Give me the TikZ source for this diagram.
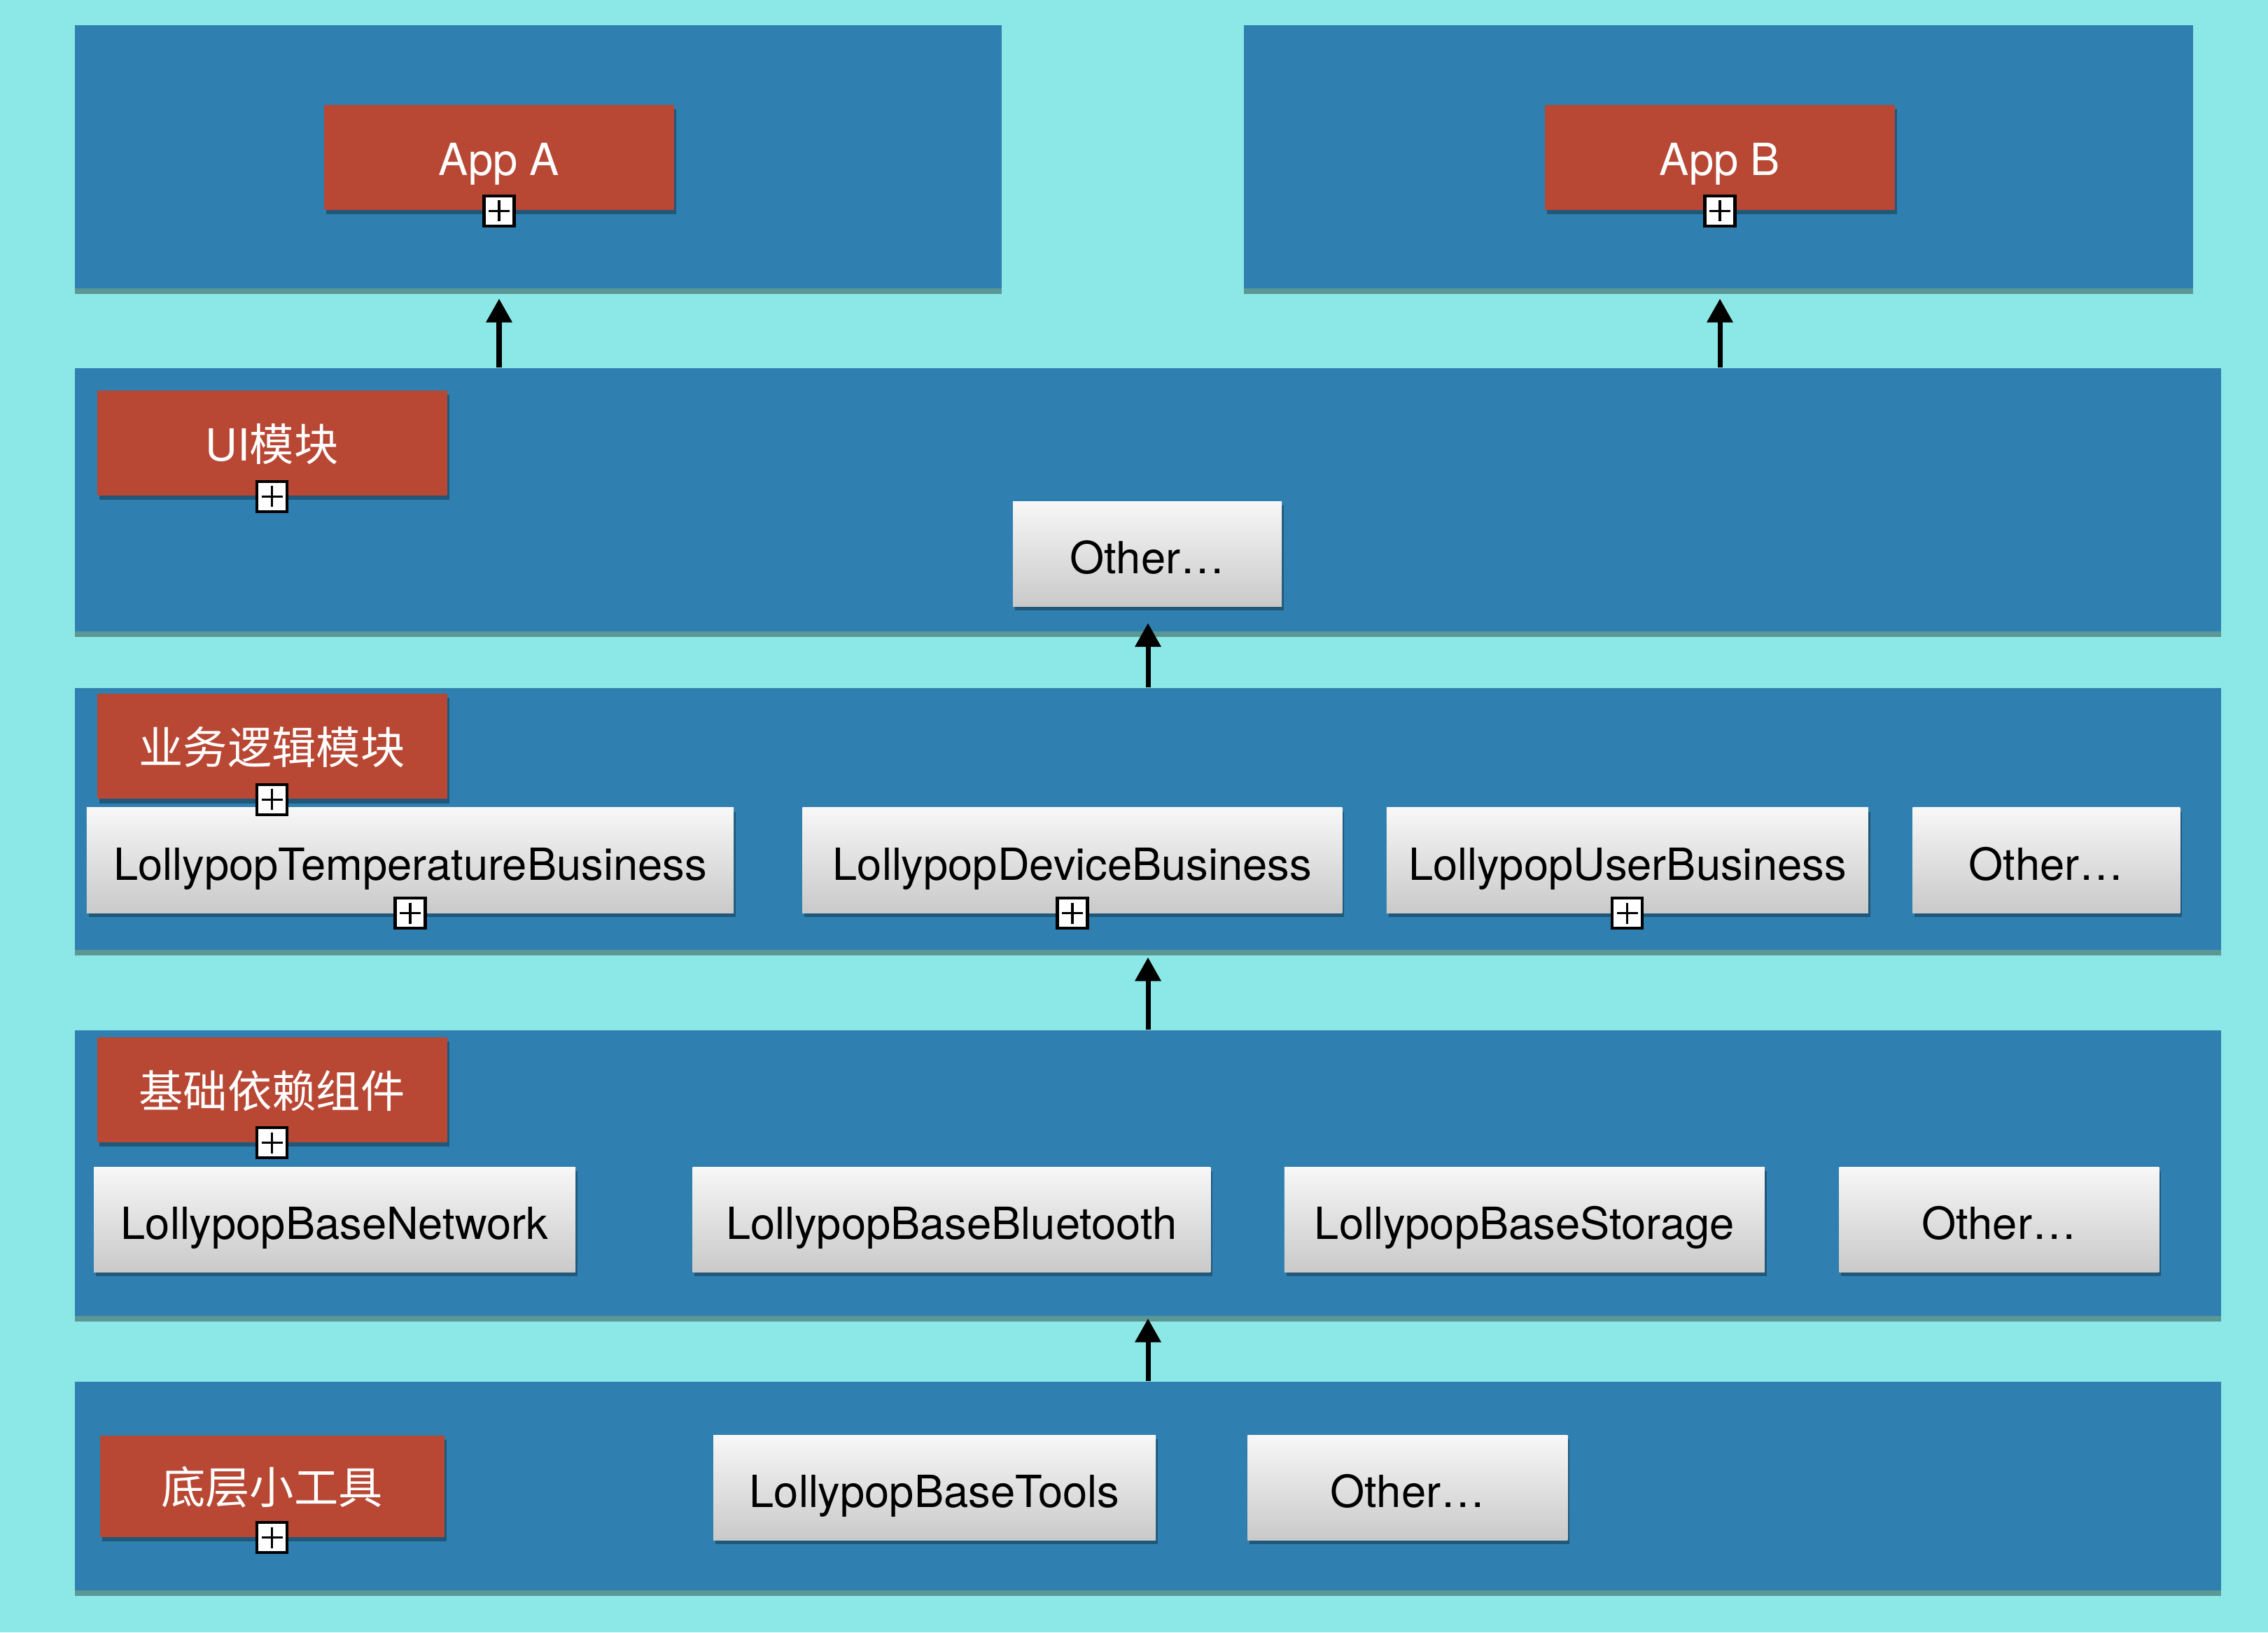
\documentclass[tikz,border=0pt]{standalone}
\usepackage{fontspec}
\setmainfont{TeX Gyre Heros}
\newfontfamily\cjk{Noto Sans CJK SC}
\usetikzlibrary{positioning,arrows.meta,shadows}

\definecolor{sky}{RGB}{140,232,230}
\definecolor{layerblue}{RGB}{47,127,176}
\definecolor{brick}{RGB}{184,71,52}

\begin{document}
\begin{tikzpicture}[x=1mm,y=1mm,
  font=\fontsize{18}{22}\selectfont,
  layer/.style={fill=layerblue,inner sep=0pt,
                drop shadow={shadow xshift=0mm,shadow yshift=-0.8mm,opacity=.35,fill=black}},
  tag/.style={fill=brick,text=white,inner sep=0pt,minimum width=50mm,minimum height=15mm,
              text height=17.5pt,text depth=3pt,
              drop shadow={shadow xshift=0.3mm,shadow yshift=-0.6mm,opacity=.3,fill=black}},
  mod/.style={top color=white!97!black,bottom color=black!21,inner sep=0pt,minimum height=15mm,
              text height=16pt,text depth=0pt,
              drop shadow={shadow xshift=0.3mm,shadow yshift=-0.6mm,opacity=.3,fill=black}},
  fold/.style={draw=black,line width=1.2pt,fill=white,minimum size=4.3mm,inner sep=0pt,
               path picture={\draw[line width=0.9pt] (path picture bounding box.center)
                 +(0,-1.5mm) -- +(0,1.5mm) +(-1.5mm,0) -- +(1.5mm,0);}},
  dep/.style={-{Triangle[length=3.4mm,width=3.6mm]},line width=2pt}
]
\useasboundingbox (0,0) rectangle (324,233.2);
\fill[sky] (0,0) rectangle (324,233.2);

% ---- layers ----
\node[layer,minimum width=132.3mm,minimum height=37.6mm] (panA) at (76.9,210.8) {};
\node[layer,minimum width=135.6mm,minimum height=37.6mm] (panB) at (245.5,210.8) {};
\node[layer,minimum width=306.5mm,minimum height=37.6mm] (uiL)   at (164,161.8) {};
\node[layer,minimum width=306.5mm,minimum height=37.4mm] (bizL)  at (164,116.2) {};
\node[layer,minimum width=306.5mm,minimum height=40.8mm] (baseL) at (164,65.6) {};
\node[layer,minimum width=306.5mm,minimum height=29.8mm] (toolL) at (164,20.9) {};

% ---- apps ----
\node[tag] (appA) at (71.3,210.65) {App A};
\node[tag] (appB) at (245.7,210.65) {App B};

% ---- UI ----
\node[tag] (uiT) at (38.85,169.85) {UI{\cjk 模块}};
\node[mod,minimum width=38.4mm] (uiOther) at (163.9,154.05) {Other…};

% ---- business ----
\node[tag] (bizT) at (38.85,126.55) {\cjk 业务逻辑模块};
\node[mod,minimum width=92.4mm] (temp) at (58.6,110.3) {LollypopTemperatureBusiness};
\node[mod,minimum width=77.1mm,right=9.7mm of temp] (device) {LollypopDeviceBusiness};
\node[mod,minimum width=68.8mm,right=6.2mm of device] (user) {LollypopUserBusiness};
\node[mod,minimum width=38.2mm,right=6.2mm of user] (bizOther) {Other…};

% ---- base ----
\node[tag] (baseT) at (38.85,77.5) {\cjk 基础依赖组件};
\node[mod,minimum width=68.8mm] (net) at (47.8,59) {LollypopBaseNetwork};
\node[mod,minimum width=74mm,right=16.6mm of net] (bt) {LollypopBaseBluetooth};
\node[mod,minimum width=68.6mm,right=10.4mm of bt] (storage) {LollypopBaseStorage};
\node[mod,minimum width=45.7mm,right=10.5mm of storage] (baseOther) {Other…};

% ---- tools ----
\node[tag,minimum width=49.2mm,minimum height=14.5mm] (toolT) at (38.85,20.85) {\cjk 底层小工具};
\node[mod,minimum width=63.2mm] (tools) at (133.5,20.7) {LollypopBaseTools};
\node[mod,minimum width=45.7mm,right=13mm of tools] (toolOther) {Other…};

% ---- fold markers ----
\foreach \n in {appA,appB,uiT,bizT,baseT,toolT,temp,device,user}
  \node[fold] (f-\n) at (\n.south) {};

% ---- dependencies ----
\draw[dep,shorten >=1.4mm] (uiL.north -| appA.south) -- (panA.south -| appA.south);
\draw[dep,shorten >=1.4mm] (uiL.north -| appB.south) -- (panB.south -| appB.south);
\draw[dep,shorten >=2.3mm] (bizL.north) -- (bizL.north |- uiOther.south);
\draw[dep,shorten >=1mm] (baseL.north) -- (bizL.south);
\draw[dep,shorten >=0.3mm] (toolL.north) -- (baseL.south);

\end{tikzpicture}
\end{document}
